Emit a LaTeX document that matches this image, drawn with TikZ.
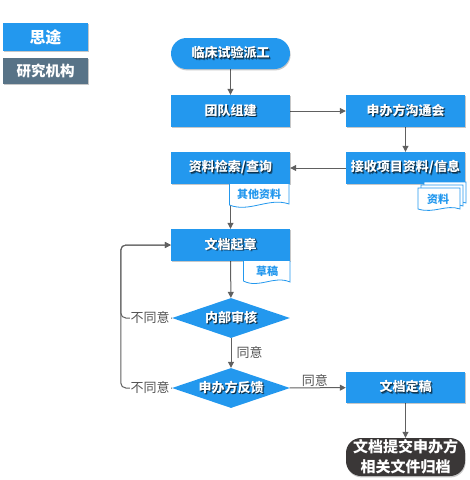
\documentclass[tikz,border=0pt]{standalone}
\usepackage{fontspec}
\setmainfont{Noto Sans CJK SC}
\usetikzlibrary{arrows.meta,shapes.geometric,shadows}
\definecolor{mblue}{RGB}{35,152,238}
\definecolor{slate}{RGB}{88,115,135}
\definecolor{darkpill}{RGB}{58,55,55}
\definecolor{edgegray}{RGB}{96,96,96}
\definecolor{labgray}{RGB}{85,85,85}
\colorlet{tshadowA}{mblue!30!black}
\colorlet{tshadowB}{mblue!60!black}
\newcommand{\tsh}[1]{\makebox[0pt][l]{\kern1.5pt\raisebox{-1.5pt}{\textcolor{tshadowB}{#1}}}\makebox[0pt][l]{\kern0.8pt\raisebox{-0.8pt}{\textcolor{tshadowA}{#1}}}\textcolor{white}{#1}}
\pgfdeclarelayer{bg}
\pgfsetlayers{bg,main}
\tikzset{
  boxshadow/.style={drop shadow={shadow xshift=0.6pt,shadow yshift=-1.4pt,opacity=0.22,fill=black}},
  bluebox/.style={rectangle,fill=mblue,minimum width=119pt,minimum height=32pt,inner sep=0pt,
    font=\fontsize{13}{15}\selectfont\bfseries,boxshadow},
  diabox/.style={diamond,fill=mblue,minimum width=118pt,minimum height=40pt,inner sep=0pt,
    shape aspect=3,font=\fontsize{13}{15}\selectfont\bfseries},
  edge/.style={draw=edgegray,line width=1pt,-{Triangle[length=6pt,width=6pt]}},
  lab/.style={text=labgray,font=\fontsize{13}{15}\selectfont,inner sep=1pt},
  docshape/.style={fill=white,draw=mblue,line width=0.8pt},
  doctext/.style={text=mblue,font=\fontsize{11}{13}\selectfont\bfseries,inner sep=0pt},
}
\begin{document}
\begin{tikzpicture}[x=1pt,y=-1pt]
\useasboundingbox (0,0) rectangle (470,480);
% legend
\node[rectangle,fill=mblue,minimum width=85pt,minimum height=28pt,inner sep=0pt,text=white,
  font=\fontsize{16}{18}\selectfont\bfseries,boxshadow] (sitou) at (45.5,37) {思途};
\node[rectangle,fill=slate,minimum width=85pt,minimum height=26pt,inner sep=0pt,text=white,
  font=\fontsize{14.5}{17}\selectfont\bfseries,boxshadow] (org) at (45.5,71) {研究机构};
% main nodes
\node[bluebox,rounded corners=15.5pt,minimum height=31pt] (start) at (230.5,53.5) {\tsh{临床试验派工}};
\node[bluebox] (team) at (230.5,111) {\tsh{团队组建}};
\node[bluebox] (sponsor) at (405.5,111) {\tsh{申办方沟通会}};
\node[bluebox] (search) at (230.5,168) {\tsh{资料检索/查询}};
\node[bluebox] (recv) at (405.5,168) {\tsh{接收项目资料/信息}};
\node[bluebox] (draft) at (230.5,245) {\tsh{文档起章}};
\node[diabox] (review) at (231,318) {\tsh{内部审核}};
\node[diabox] (fb) at (231,388) {\tsh{申办方反馈}};
\node[bluebox,minimum height=31pt] (final) at (405.5,387.5) {\tsh{文档定稿}};
\node[rectangle,rounded corners=15pt,fill=darkpill,minimum width=119pt,minimum height=38pt,inner sep=0pt,
  text=white,align=center,font=\fontsize{15}{20}\selectfont\bfseries,boxshadow] (submit) at (405.5,457)
  {文档提交申办方\\相关文件归档};
% documents
\draw[docshape] (229.5,184) -- (229.5,205) .. controls (249,213) and (269,197) .. (289,204) -- (289,184);
\node[doctext] (otherdoc) at (259,194.5) {其他资料};
\draw[docshape] (243.5,261) -- (243.5,281) .. controls (259,289) and (274,275) .. (290,282) -- (290,261);
\node[doctext] (draftdoc) at (267,271.5) {草稿};
\draw[docshape] (424,182) -- (466,182) -- (466,203) .. controls (452,198) and (440,208) .. (424,203) -- cycle;
\draw[docshape] (421,185) -- (463,185) -- (463,206) .. controls (449,201) and (437,211) .. (421,206) -- cycle;
\draw[docshape] (418,188) -- (460,188) -- (460,209) .. controls (446,204) and (434,214) .. (418,209) -- cycle;
\node[doctext] (datadoc) at (438,199.5) {资料};
% edges
\begin{pgfonlayer}{bg}
\draw[edge] (start) -- (team);
\draw[edge] (team) -- (sponsor);
\draw[edge] (sponsor) -- (recv);
\draw[edge] (recv) -- (search);
\draw[edge] (search) -- (draft);
\draw[edge] (draft) -- (review);
\draw[edge] (review) -- node[lab,right,pos=0.5,xshift=4pt] (agree1) {同意} (fb);
\draw[edge] (fb) -- node[lab,above,pos=0.45] (agree2) {同意} (final);
\draw[edge] (final) -- (submit);
\draw[edge,rounded corners=5pt] (review.west) -- ++(-51,0) |- (draft.west);
\draw[edge,rounded corners=5pt] (fb.west) -- ++(-51,0) |- (draft.west);
\end{pgfonlayer}
\node[lab,fill=white] (dis1) at (150,318) {不同意};
\node[lab,fill=white] (dis2) at (150,388) {不同意};
\end{tikzpicture}
\end{document}
